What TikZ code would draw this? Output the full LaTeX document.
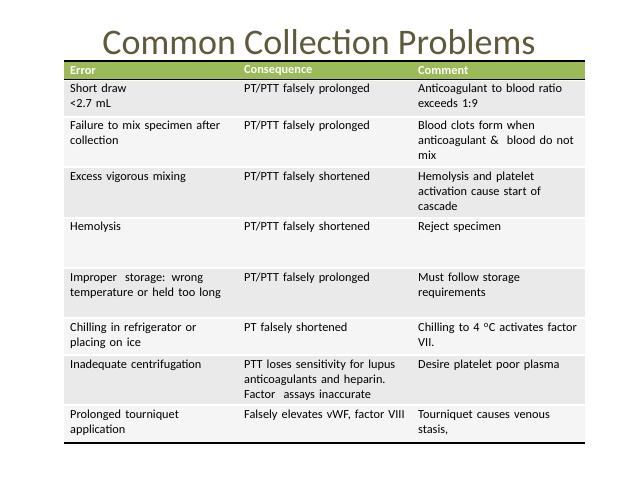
\documentclass[tikz,border=0pt]{standalone}
\usepackage{fontspec}
\setmainfont{Carlito}
\definecolor{titlec}{HTML}{5F5A3B}
\definecolor{hdr}{HTML}{9BBB59}
\definecolor{rowa}{HTML}{EAEAEA}
\definecolor{rowb}{HTML}{F5F5F5}
\tikzset{cell/.style={anchor=north west,inner sep=0pt,align=left,text width=165pt,font=\fontsize{12.3}{15}\selectfont},
hcell/.style={anchor=west,inner sep=0pt,text=white,font=\fontsize{12.3}{15}\selectfont\bfseries}}
\begin{document}
\begin{tikzpicture}[x=1pt,y=-1pt]
\useasboundingbox[fill=white] (0,0) rectangle (638,478);
\node[text=titlec,font=\fontsize{36}{40}\selectfont] (title) at (319,42) {Common Collection Problems};
\fill[hdr] (64,61) rectangle (585,80);
\foreach \a/\b/\c in {80/117/rowa,117/167/rowb,167/218/rowa,218/268/rowb,268/318/rowa,318/355/rowb,355/405/rowa,405/443/rowb}{
  \fill[\c] (64,\a+0.8) rectangle (585,\b-0.8);
}
\draw[line width=1.2pt] (64,61) -- (585,61);
\draw[line width=1pt] (64,80) -- (585,80);
\draw[line width=1.5pt] (64,443) -- (585,443);
\node[hcell] (h1) at (70,70.5) {Error};
\node[hcell] (h2) at (244,70.5) {Consequence};
\node[hcell] (h3) at (418,70.5) {Comment};
\foreach \y/\A/\B/\C [count=\i] in {
 84/{Short draw\\<2.7 mL}/{PT/PTT falsely prolonged}/{Anticoagulant to blood ratio\\exceeds 1:9},
 121/{Failure to mix specimen after\\collection}/{PT/PTT falsely prolonged}/{Blood clots form when\\anticoagulant \&\ \ blood do not\\mix},
 172/{Excess vigorous mixing}/{PT/PTT falsely shortened}/{Hemolysis and platelet\\activation cause start of\\cascade},
 222/{Hemolysis}/{PT/PTT falsely shortened}/{Reject specimen},
 273/{Improper\ \ storage: wrong\\temperature or held too long}/{PT/PTT falsely prolonged}/{Must follow storage\\requirements},
 323/{Chilling in refrigerator or\\placing on ice}/{PT falsely shortened}/{Chilling to 4 \textsuperscript{o}C activates factor\\VII.},
 360/{Inadequate centrifugation}/{PTT loses sensitivity for lupus\\anticoagulants and heparin.\\Factor\ \ assays inaccurate}/{Desire platelet poor plasma},
 410/{Prolonged tourniquet\\application}/{Falsely elevates vWF, factor VIII}/{Tourniquet causes venous\\stasis,}}{
  \node[cell] (a\i) at (70,\y) {\A};
  \node[cell] (b\i) at (244,\y) {\B};
  \node[cell] (c\i) at (418,\y) {\C};
}
\end{tikzpicture}
\end{document}
